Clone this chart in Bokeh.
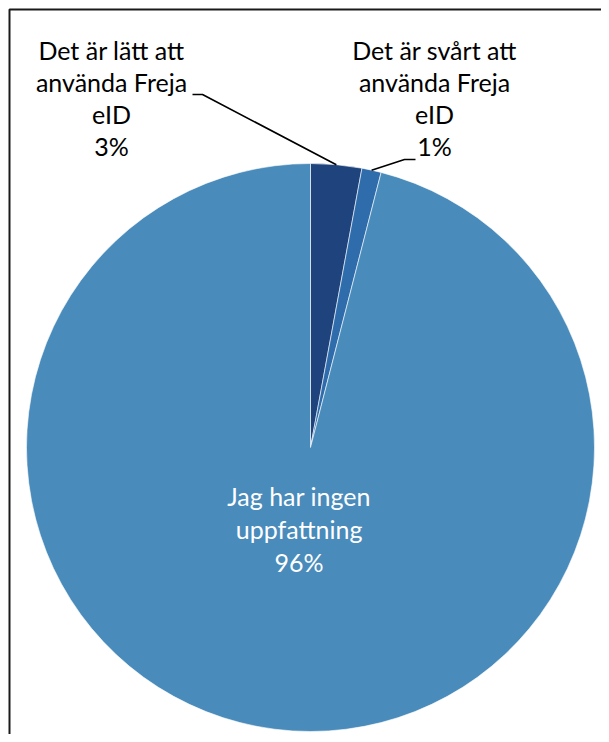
import numpy as np
from bokeh.plotting import figure
from bokeh.models import Range1d, ColumnDataSource
from bokeh.core.properties import value
from bokeh.embed import file_html
from bokeh.resources import INLINE

# ---- data ----
categories = [
    "Det är lätt att\nanvända Freja\neID",
    "Det är svårt att\nanvända Freja\neID",
    "Jag har ingen\nuppfattning",
]
values = [2.9, 1.1, 96.0]
colors = ["#1F437D", "#2E6CAC", "#498BBB"]

# ---- layout helpers (page pixel -> data) ----
W, H = 601, 734
def X(px):
    return px
def Y(py):
    return H - py

p = figure(width=W, height=H, x_range=Range1d(0, W), y_range=Range1d(0, H),
           output_backend="svg", toolbar_location=None, min_border=0,
           x_axis_location=None, y_axis_location=None)
p.grid.visible = False
p.outline_line_color = None
p.background_fill_color = "white"
p.border_fill_color = "white"

cx, cy, R = X(310), Y(447), 284

vals = np.array(values, dtype=float)
fr = vals / vals.sum()
cum = np.concatenate([[0.0], np.cumsum(fr)])
start = np.pi / 2 - 2 * np.pi * cum[1:]
end = np.pi / 2 - 2 * np.pi * cum[:-1]
mid = np.pi / 2 - 2 * np.pi * (cum[:-1] + cum[1:]) / 2

src = ColumnDataSource(dict(start=start, end=end, color=colors))
p.wedge(x=cx, y=cy, radius=R, start_angle="start", end_angle="end",
        fill_color="color", line_color="white", line_width=0.6, source=src)

# leader lines for the two small slices
elbows = [((X(202), Y(94)), (X(192), Y(94))), ((X(404), Y(159)), (X(415), Y(159)))]
for i, (elb, tip) in enumerate(elbows):
    ex = cx + R * np.cos(mid[i])
    ey = cy + R * np.sin(mid[i])
    p.line([ex, elb[0], tip[0]], [ey, elb[1], tip[1]], line_color="black", line_width=1.6)

# labels
TEXT_SHIFT = 9
labels = [c + "\n" + f"{round(v)}%" for c, v in zip(categories, values)]
lx, ly, lt, lc = [], [], [], []
outer_pos = [(X(111), Y(58) + TEXT_SHIFT), (X(434), Y(58) + TEXT_SHIFT)]
step = 32
for i in range(2):
    for k, line in enumerate(labels[i].split("\n")):
        lx.append(outer_pos[i][0]); ly.append(outer_pos[i][1] - k * step)
        lt.append(line); lc.append("black")
# inner label along bisector of the big slice
ix = cx + 0.32 * R * np.cos(mid[2])
iy = cy + 0.32 * R * np.sin(mid[2]) + TEXT_SHIFT
inner = labels[2].split("\n")
for k, line in enumerate(inner):
    lx.append(ix); ly.append(iy + (1 - k) * 33)
    lt.append(line); lc.append("white")

tsrc = ColumnDataSource(dict(x=lx, y=ly, text=lt, color=lc))
p.text(x="x", y="y", text="text", text_color="color", source=tsrc,
       text_font=value("Lato"), text_font_size="25px",
       text_align="center", text_baseline="alphabetic")

# frame (top and left edges of the original chart box)
p.line([X(9), X(9), X(W)], [Y(H), Y(9), Y(9)], line_color="#1a1a1a", line_width=2)

open("out.html", "w").write(file_html(p, INLINE))
